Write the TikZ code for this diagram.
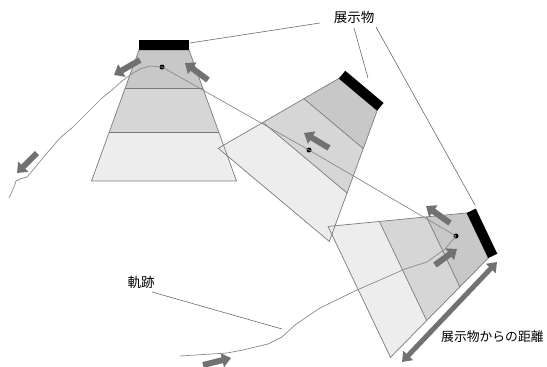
\documentclass[tikz,border=0pt]{standalone}
\usepackage{fontspec}
\newfontfamily\cjk{Noto Sans CJK JP}
\usetikzlibrary{arrows.meta,calc}
\definecolor{bandinner}{HTML}{C8C8C8}
\definecolor{bandmid}{HTML}{D6D6D6}
\definecolor{bandouter}{HTML}{EDEDED}
\definecolor{edgegray}{HTML}{7A7A7A}
\definecolor{arrowgray}{HTML}{717171}
\definecolor{traj}{HTML}{8A8A8A}
\definecolor{leader}{HTML}{6A6A6A}

% #1 shift, #2 rotate, #3 name prefix
\newcommand{\panelfill}[3]{%
\begin{scope}[shift={#1},rotate=#2]
  \coordinate (#3tl) at (-25,0);
  \coordinate (#3tr) at (25,0);
  \coordinate (#3al) at (-38.8,38);
  \coordinate (#3ar) at (38.8,38);
  \coordinate (#3bl) at (-54.9,82.5);
  \coordinate (#3br) at (54.9,82.5);
  \coordinate (#3wl) at (-72.5,131);
  \coordinate (#3wr) at (72.5,131);
  \coordinate (#3kl) at (-25,-10);
  \coordinate (#3kr) at (25,-10);
  \fill[bandinner] (#3tl) -- (#3tr) -- (#3ar) -- (#3al) -- cycle;
  \fill[bandmid] (#3al) -- (#3ar) -- (#3br) -- (#3bl) -- cycle;
  \fill[bandouter] (#3bl) -- (#3br) -- (#3wr) -- (#3wl) -- cycle;
\end{scope}}
\newcommand{\paneledges}[1]{%
  \draw[paneledge] (#1tl) -- (#1tr) -- (#1wr) -- (#1wl) -- cycle;
  \draw[paneledge] (#1al) -- (#1ar);
  \draw[paneledge] (#1bl) -- (#1br);
  \fill[black] (#1kl) -- (#1kr) -- (#1tr) -- (#1tl) -- cycle;}

\begin{document}
\begin{tikzpicture}[x=1pt,y=-1pt,
  paneledge/.style={draw=edgegray, line width=0.7pt},
  trajline/.style={draw=traj, line width=0.7pt},
  leaderline/.style={draw=leader, line width=0.6pt},
  blockarrow/.style={draw=arrowgray, line width=6pt, -{Triangle[width=14pt,length=9pt]}},
  distarrow/.style={draw=arrowgray, line width=5pt,
     {Triangle[width=13pt,length=9pt]}-{Triangle[width=13pt,length=9pt]}},
  dot/.style={circle, fill=black, inner sep=0pt, minimum size=5pt},
  lbl/.style={font=\cjk\fontsize{13.5}{14}\selectfont, inner sep=0pt}]
\useasboundingbox (0,0) rectangle (547,367);

% panels
\panelfill{(164,50)}{0}{p}
\panelfill{(358,94.5)}{-40}{q}
\panelfill{(477.5,235.5)}{-64.5}{r}
\paneledges{p}
\paneledges{q}
\paneledges{r}

% dots (positions of the visitor)
\node[dot] (d1) at (162,67) {};
\node[dot] (d2) at (309,150) {};
\node[dot] (d3) at (456,236) {};

% trajectory
\coordinate (tstart) at (180,356);
\coordinate (tend) at (9,198);
\draw[trajline] (tstart) -- (227,353) -- (243,350) -- (268,344) -- (282,337)
  -- (295,325) -- (320,308) -- (357,290) -- (380,280) -- (405,269) -- (427,262)
  -- (445,249) -- (d3.center);
\draw[trajline] (d3.center) -- (d2.center) -- (d1.center);
\draw[trajline] (d1.center) -- (150,66) -- (140,69) -- (130,75) -- (122,81)
  -- (112,90) -- (102,98) -- (90,110) -- (73,127) -- (60,138) -- (47,153)
  -- (33,170) -- (27,177) -- (20,179) -- (16,181) -- (14,187) -- (tend);

% movement arrows
\draw[blockarrow] (140,60) -- (114,75);
\draw[blockarrow] (208,80) -- (185,63);
\draw[blockarrow] (329,148) -- (304,133);
\draw[blockarrow] (450,223) -- (426,206);
\draw[blockarrow] (435,265) -- (457,249);
\draw[blockarrow] (37,153) -- (17,173);
\draw[blockarrow] (203,365) -- (231,358);

% distance arrow
\coordinate (da) at (402,362);
\coordinate (db) at (497,262);
\draw[distarrow] (da) -- (db);

% labels
\node[lbl] (exh) at (354,17) {展示物};
\node[lbl] (trk) at (141,282) {軌跡};
\node[lbl, anchor=west, font=\cjk\fontsize{12.8}{14}\selectfont] (dist) at (441,337) {展示物からの距離};

% leader lines
\coordinate (e1a) at (320,23);
\coordinate (e1b) at (190,43);
\coordinate (e2a) at (354,28);
\coordinate (e2b) at (368,78);
\coordinate (e3a) at (376,27);
\coordinate (e3b) at (475,205);
\coordinate (t1a) at (152,292);
\coordinate (t1b) at (282,329);
\draw[leaderline] (e1a) -- (e1b);
\draw[leaderline] (e2a) -- (e2b);
\draw[leaderline] (e3a) -- (e3b);
\draw[leaderline] (t1a) -- (t1b);
\end{tikzpicture}
\end{document}
